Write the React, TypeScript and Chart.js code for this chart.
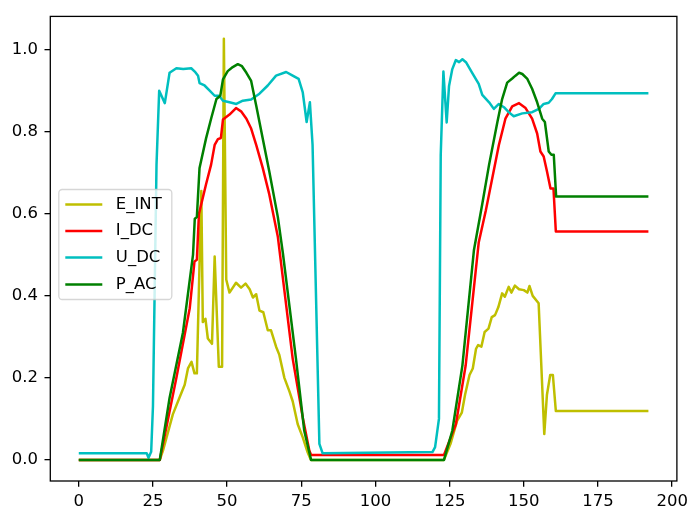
import React, { useEffect, useRef } from 'react';
import { Chart, registerables } from 'chart.js';

Chart.register(...registerables);

const SERIES_NAMES = ['E_INT', 'I_DC', 'U_DC', 'P_AC'];
const SERIES_COLORS = ['#bfbf00', '#ff0000', '#00bfbf', '#008000'];

const X_TICKS = [0, 25, 50, 75, 100, 125, 150, 175, 200];
const Y_TICKS = [0, 0.2, 0.4, 0.6, 0.8, 1.0];

const E_INT_X = [0, 27.3, 28.4, 31.7, 33.9, 35.7, 36.8, 38, 39, 39.8, 41.3, 41.8, 42.7, 43.5, 44.9, 45.8, 47.2, 48.3, 48.9, 49.7, 50.8, 53, 54.7, 56.2, 57.6, 58.7, 59.8, 60.9, 62.2, 63.7, 64.8, 66.5, 67.6, 69.3, 71, 72.1, 73.8, 75.5, 77.1, 78.2, 123.1, 125.3, 127.5, 129.1, 130.2, 131.7, 132.8, 133.9, 134.6, 135.7, 136.8, 138.1, 139.2, 140.3, 141.4, 142.7, 143.6, 144.9, 145.8, 147, 148.4, 150, 151.2, 151.9, 153, 155, 156.9, 157.8, 158.9, 159.8, 160.8, 192];
const E_INT_Y = [0, 0, 0.023, 0.111, 0.151, 0.183, 0.223, 0.239, 0.211, 0.211, 0.656, 0.336, 0.344, 0.296, 0.283, 0.496, 0.227, 0.227, 1.027, 0.44, 0.408, 0.432, 0.42, 0.43, 0.416, 0.396, 0.404, 0.364, 0.36, 0.316, 0.316, 0.276, 0.256, 0.2, 0.167, 0.143, 0.087, 0.055, 0.019, 0, 0, 0.039, 0.095, 0.115, 0.159, 0.207, 0.223, 0.271, 0.28, 0.276, 0.312, 0.32, 0.348, 0.353, 0.372, 0.406, 0.398, 0.422, 0.408, 0.425, 0.416, 0.414, 0.408, 0.424, 0.4, 0.382, 0.063, 0.159, 0.207, 0.207, 0.119, 0.119];

const I_DC_X = [0, 27.3, 32.9, 37.4, 39, 39.8, 40.5, 42.9, 44.6, 45.8, 46.9, 47.9, 48.6, 50.8, 53, 54.7, 56.5, 58.1, 59.8, 62, 64.2, 67.1, 72.1, 75.5, 77.7, 78.3, 123.1, 127.1, 130.4, 134.8, 137.2, 139.4, 141.6, 143.8, 146.1, 148.4, 150.6, 152.8, 154.5, 155.6, 156.7, 157.8, 159, 160, 160.8, 192];
const I_DC_Y = [0, 0, 0.2, 0.37, 0.484, 0.488, 0.6, 0.672, 0.72, 0.768, 0.782, 0.785, 0.83, 0.842, 0.858, 0.85, 0.832, 0.808, 0.768, 0.712, 0.648, 0.544, 0.247, 0.103, 0.023, 0.012, 0.012, 0.087, 0.23, 0.53, 0.608, 0.688, 0.768, 0.832, 0.862, 0.87, 0.858, 0.832, 0.796, 0.752, 0.74, 0.704, 0.662, 0.662, 0.557, 0.557];

const U_DC_X = [0, 22.9, 23.5, 24.4, 25, 26.2, 27.1, 29, 30.6, 32.9, 35.2, 37.9, 39.1, 40.2, 40.7, 42.4, 44.2, 45.8, 47.3, 48.6, 50.8, 53.1, 55.3, 58.1, 60.9, 63.7, 66.5, 69.9, 72.1, 74.1, 75.5, 76.8, 77.9, 78.8, 81.1, 82.2, 119.2, 120.1, 121.4, 122, 122.9, 124, 124.8, 125.9, 127.1, 128.2, 129.3, 130.6, 132.6, 134.8, 136, 138.3, 139.9, 141.6, 143.3, 144.9, 146.6, 149.5, 152.8, 155.1, 156.7, 158.4, 159.5, 160.7, 192];
const U_DC_Y = [0.016, 0.016, 0.005, 0.02, 0.13, 0.72, 0.9, 0.87, 0.944, 0.955, 0.953, 0.955, 0.947, 0.937, 0.919, 0.913, 0.9, 0.888, 0.888, 0.876, 0.872, 0.868, 0.876, 0.879, 0.893, 0.913, 0.937, 0.946, 0.937, 0.929, 0.896, 0.824, 0.872, 0.768, 0.039, 0.016, 0.019, 0.031, 0.1, 0.744, 0.947, 0.823, 0.912, 0.953, 0.975, 0.97, 0.977, 0.969, 0.944, 0.917, 0.89, 0.872, 0.856, 0.868, 0.86, 0.848, 0.838, 0.845, 0.848, 0.856, 0.868, 0.871, 0.88, 0.894, 0.894];

const P_AC_X = [0, 27.3, 30.6, 35.1, 38.5, 39.1, 39.8, 40.7, 42.9, 44.6, 46.4, 47.7, 48.6, 50.2, 51.9, 53.6, 55, 56.5, 58.1, 59.8, 62, 64.2, 67.1, 68.8, 73.2, 76, 78.3, 123.1, 125.9, 129.3, 133.2, 136, 138.3, 141.1, 142.7, 144.4, 146.1, 147.2, 148.4, 149.5, 151.2, 152.8, 154.5, 156.2, 157.1, 158.4, 159.3, 160.1, 160.9, 192];
const P_AC_Y = [0, 0, 0.151, 0.31, 0.5, 0.588, 0.592, 0.712, 0.784, 0.832, 0.88, 0.888, 0.928, 0.948, 0.958, 0.965, 0.96, 0.944, 0.924, 0.864, 0.784, 0.704, 0.592, 0.504, 0.247, 0.071, 0, 0, 0.071, 0.23, 0.512, 0.624, 0.72, 0.824, 0.88, 0.92, 0.93, 0.937, 0.944, 0.941, 0.929, 0.905, 0.872, 0.832, 0.824, 0.752, 0.744, 0.744, 0.642, 0.642];

const FONT_FAMILY = '"DejaVu Sans", sans-serif';
const FONT_SIZE = 16.5;

export default function App() {
  const canvasRef = useRef<HTMLCanvasElement | null>(null);

  useEffect(() => {
    const canvas = canvasRef.current;
    if (!canvas) return;

    const pts = (xs: number[], ys: number[]) =>
      xs.map((x, i) => ({ x, y: ys[i] }));
    const series = [
      pts(E_INT_X, E_INT_Y),
      pts(I_DC_X, I_DC_Y),
      pts(U_DC_X, U_DC_Y),
      pts(P_AC_X, P_AC_Y),
    ];

    const framePlugin = {
      id: 'mplFrame',
      afterDatasetsDraw(chart: any) {
        const { ctx, chartArea: a } = chart;
        ctx.save();
        ctx.strokeStyle = '#000';
        ctx.lineWidth = 1.3;
        ctx.strokeRect(a.left, a.top, a.right - a.left, a.bottom - a.top);
        ctx.restore();
      },
    };

    const legendPlugin = {
      id: 'mplLegend',
      afterDraw(chart: any) {
        const { ctx, chartArea: a } = chart;
        const bx = a.left + 8.5;
        const by = 189.5;
        const bw = 113;
        const bh = 110;
        const r = 3.5;
        ctx.save();
        ctx.beginPath();
        ctx.moveTo(bx + r, by);
        ctx.lineTo(bx + bw - r, by);
        ctx.arcTo(bx + bw, by, bx + bw, by + r, r);
        ctx.lineTo(bx + bw, by + bh - r);
        ctx.arcTo(bx + bw, by + bh, bx + bw - r, by + bh, r);
        ctx.lineTo(bx + r, by + bh);
        ctx.arcTo(bx, by + bh, bx, by + bh - r, r);
        ctx.lineTo(bx, by + r);
        ctx.arcTo(bx, by, bx + r, by, r);
        ctx.closePath();
        ctx.fillStyle = 'rgba(255,255,255,0.8)';
        ctx.fill();
        ctx.strokeStyle = 'rgba(204,204,204,0.8)';
        ctx.lineWidth = 1.3;
        ctx.stroke();
        const rowY = [204.5, 231, 257.5, 284.5];
        ctx.font = `${FONT_SIZE}px ${FONT_FAMILY}`;
        ctx.textBaseline = 'middle';
        ctx.textAlign = 'left';
        SERIES_NAMES.forEach((name, i) => {
          ctx.beginPath();
          ctx.strokeStyle = SERIES_COLORS[i];
          ctx.lineWidth = 2.5;
          ctx.moveTo(bx + 6.5, rowY[i]);
          ctx.lineTo(bx + 43.5, rowY[i]);
          ctx.stroke();
          ctx.fillStyle = '#000';
          ctx.fillText(name, bx + 57, rowY[i]);
        });
        ctx.restore();
      },
    };

    const tickFont = { family: FONT_FAMILY, size: FONT_SIZE };

    const chart = new Chart(canvas, {
      type: 'line',
      data: {
        datasets: SERIES_NAMES.map((name, i) => ({
          label: name,
          data: series[i],
          borderColor: SERIES_COLORS[i],
          backgroundColor: SERIES_COLORS[i],
          borderWidth: 2.5,
          pointRadius: 0,
          pointHoverRadius: 0,
          tension: 0,
          fill: false,
          borderJoinStyle: 'round' as const,
          order: SERIES_NAMES.length - 1 - i,
        })),
      },
      options: {
        animation: false,
        responsive: false,
        devicePixelRatio: 1,
        parsing: false as any,
        normalized: true,
        layout: { padding: { top: 10, right: 14.5, left: 0, bottom: 0 } },
        plugins: {
          legend: { display: false },
          tooltip: { enabled: false },
        },
        scales: {
          x: {
            type: 'linear',
            min: -9.6,
            max: 201.6,
            afterBuildTicks: (s: any) => {
              s.ticks = X_TICKS.map((v) => ({ value: v }));
            },
            afterFit: (s: any) => {
              s.height = 34;
            },
            grid: {
              drawOnChartArea: false,
              drawTicks: true,
              tickLength: 5.8,
              color: '#000',
              lineWidth: 1.3,
            },
            border: { display: false },
            ticks: {
              color: '#000',
              font: tickFont,
              padding: 5,
              maxRotation: 0,
              autoSkip: false,
              callback: (v: any) => String(v),
            },
          },
          y: {
            type: 'linear',
            min: -0.0515,
            max: 1.0815,
            afterBuildTicks: (s: any) => {
              s.ticks = Y_TICKS.map((v) => ({ value: v }));
            },
            afterFit: (s: any) => {
              s.width = 50.3;
            },
            grid: {
              drawOnChartArea: false,
              drawTicks: true,
              tickLength: 5.8,
              color: '#000',
              lineWidth: 1.3,
            },
            border: { display: false },
            ticks: {
              color: '#000',
              font: tickFont,
              padding: 6.5,
              autoSkip: false,
              callback: (v: any) => Number(v).toFixed(1),
            },
          },
        },
      },
      plugins: [framePlugin, legendPlugin],
    });

    return () => chart.destroy();
  }, []);

  return (
    <div
      style={{
        position: 'fixed',
        left: 0,
        top: 0,
        width: 693,
        height: 515,
        background: '#fff',
      }}
    >
      <canvas
        ref={canvasRef}
        width={693}
        height={515}
        style={{ width: '693px', height: '515px', display: 'block' }}
      />
    </div>
  );
}
